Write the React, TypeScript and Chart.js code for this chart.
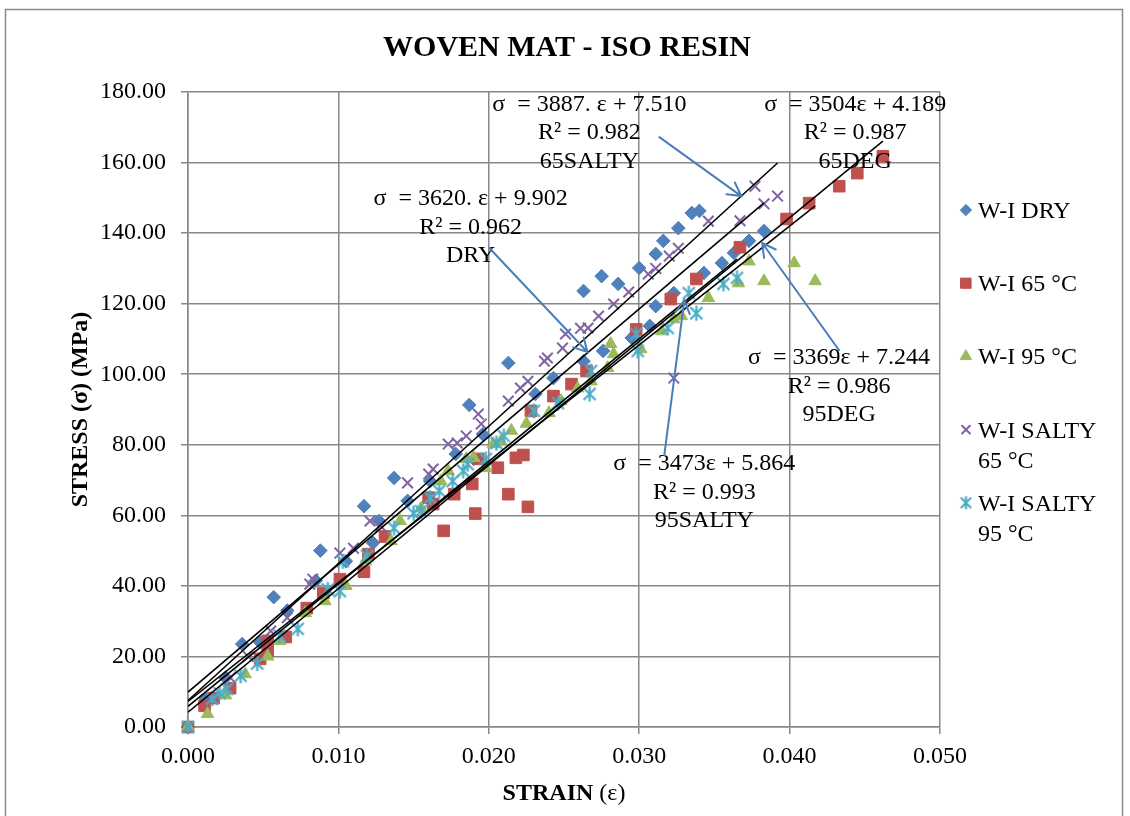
import React, { useEffect, useRef } from 'react';
import { Chart, registerables } from 'chart.js';
import { drawPoint } from 'chart.js/helpers';

Chart.register(...registerables);

// ---------- DATA ----------
const chartTitle = 'WOVEN MAT - ISO RESIN';
const yAxisTitle = 'STRESS (σ) (MPa)';
const xAxisTitleBold = 'STRAIN ';
const xAxisTitleRegular = '(ε)';

const seriesLabels = [
  ['W-I DRY'],
  ['W-I 65 °C'],
  ['W-I 95 °C'],
  ['W-I SALTY', '65 °C'],
  ['W-I SALTY', '95 °C'],
];

// [strain, stress (MPa)]
const dryPoints = [
  [0, 0], [0.0012, 8], [0.0025, 14], [0.0036, 23.5], [0.0048, 24], [0.0057, 36.8], [0.0066, 33],
  [0.0085, 41.5], [0.0088, 50], [0.0105, 47], [0.0117, 62.6], [0.0123, 52.2], [0.0127, 58.4],
  [0.0137, 70.6], [0.0146, 64.1], [0.0161, 69.7], [0.0178, 77.4], [0.0187, 91.3], [0.019, 76],
  [0.0196, 83], [0.0213, 103.2], [0.0231, 94.4], [0.0243, 98.9], [0.0263, 123.6], [0.0263, 103.7],
  [0.0275, 127.8], [0.0276, 106.6], [0.0286, 125.6], [0.0295, 110.3], [0.03, 130.1], [0.0307, 113.7],
  [0.0311, 134.1], [0.0311, 119.3], [0.0316, 137.8], [0.0323, 123], [0.0326, 141.4], [0.0335, 145.7],
  [0.034, 146.3], [0.0343, 128.7], [0.0355, 131.5], [0.0363, 134.4], [0.0373, 137.8], [0.0383, 140.6],
];

const t65Points = [
  [0, 0], [0.0011, 6], [0.0017, 8.2], [0.0028, 11], [0.0048, 19.3], [0.0053, 21.5], [0.0053, 24.4],
  [0.0065, 25.5], [0.0079, 33.7], [0.009, 38], [0.0101, 41.9], [0.0117, 44], [0.012, 49], [0.0131, 54],
  [0.016, 65], [0.0163, 63.2], [0.017, 55.6], [0.0177, 66], [0.0189, 68.9], [0.0191, 60.5], [0.0193, 76],
  [0.0206, 73.5], [0.0213, 66], [0.0218, 76.3], [0.0223, 77.1], [0.0226, 62.4], [0.0228, 89.6],
  [0.0243, 93.8], [0.0255, 97.2], [0.0265, 100.9], [0.0298, 112.7], [0.0321, 121.3], [0.0338, 127],
  [0.0367, 136], [0.0398, 144], [0.0413, 148.5], [0.0433, 153.3], [0.0445, 157], [0.0462, 161.8],
];

const t95Points = [
  [0, 0], [0.0013, 3.7], [0.0025, 9], [0.0038, 15], [0.0053, 20], [0.0061, 24.4], [0.0078, 32.3],
  [0.0091, 35.7], [0.0105, 40], [0.0118, 47], [0.0135, 52.7], [0.0141, 58.4], [0.0155, 62],
  [0.0168, 69.7], [0.0173, 72.6], [0.0185, 76], [0.019, 76.3], [0.0198, 73.4], [0.0203, 80.2],
  [0.0208, 81], [0.0215, 84], [0.0225, 86], [0.024, 89], [0.0248, 92.4], [0.0259, 96], [0.0268, 98],
  [0.0279, 101.8], [0.0281, 108.6], [0.0283, 105.7], [0.0301, 107.1], [0.0315, 112.2], [0.0323, 115.6],
  [0.0328, 116.5], [0.0346, 121.6], [0.0366, 125.8], [0.0373, 132], [0.0383, 126.4], [0.0403, 131.5],
  [0.0417, 126.4],
];

const salty65Points = [
  [0, 0], [0.0015, 8.2], [0.0028, 14], [0.004, 20], [0.0055, 27.2], [0.0066, 31], [0.0081, 40.5],
  [0.0083, 41.9], [0.0101, 49.3], [0.011, 50.7], [0.0121, 58.4], [0.0128, 57], [0.0146, 69.2],
  [0.016, 71.7], [0.0163, 73.1], [0.0173, 80.2], [0.0179, 80.5], [0.0185, 82.5], [0.0193, 88.7],
  [0.0195, 85.9], [0.0213, 92.4], [0.0221, 96.1], [0.0226, 98], [0.0237, 103.7], [0.0239, 104.6],
  [0.0249, 107.4], [0.0251, 111.4], [0.0261, 113], [0.0266, 113.1], [0.0273, 116.5], [0.0283, 119.9],
  [0.0293, 123.3], [0.0306, 128.4], [0.0311, 130], [0.032, 133.5], [0.0323, 98.9], [0.0326, 135.7],
  [0.0346, 143.4], [0.0367, 143.5], [0.0377, 153.3], [0.0383, 148.3], [0.0392, 150.5],
];

const salty95Points = [
  [0, 0], [0.0016, 8], [0.0021, 9.6], [0.0026, 10.8], [0.0035, 14.5], [0.0046, 18], [0.0061, 25.8],
  [0.0073, 27.8], [0.0093, 39], [0.0101, 38.5], [0.0103, 47], [0.0119, 48.5], [0.0137, 56.4],
  [0.015, 60.6], [0.0155, 61.2], [0.0161, 65], [0.0167, 66.9], [0.0176, 69.7], [0.0183, 72.6],
  [0.0186, 74.5], [0.0198, 76], [0.0205, 80.5], [0.021, 82.5], [0.023, 89.6], [0.0246, 91.8],
  [0.0267, 94.4], [0.0268, 100.9], [0.0298, 111.4], [0.0299, 106.6], [0.0319, 113.1], [0.0333, 123],
  [0.0338, 117.3], [0.0356, 125.6], [0.0365, 127.3],
];

// linear trendlines shown on the chart: σ = slope·ε + intercept (same order as series)
const trendSlopes = [3620, 3504, 3369, 3887, 3473];
const trendIntercepts = [9.902, 4.189, 7.244, 7.51, 5.864];

const annotationTexts = [
  ['σ  = 3887. ε + 7.510', 'R² = 0.982', '65SALTY'],
  ['σ  = 3504ε + 4.189', 'R² = 0.987', '65DEG'],
  ['σ  = 3620. ε + 9.902', 'R² = 0.962', 'DRY'],
  ['σ  = 3369ε + 7.244', 'R² = 0.986', '95DEG'],
  ['σ  = 3473ε + 5.864', 'R² = 0.993', '95SALTY'],
];
// centre of first text line, in data units
const annotationAnchors = [
  [0.02669, 176.9], [0.04436, 176.9], [0.01879, 150.2], [0.04329, 105.1], [0.03433, 75.1],
];
// arrows: [fromStrain, fromStress, toStrain, toStress]
const arrowPaths = [
  [0.03134, 167.2, 0.03679, 150.5],
  [0.02005, 135.7, 0.02656, 106.3],
  [0.04329, 106.8, 0.03818, 137.2],
  [0.03167, 77.1, 0.033, 121.0],
];

const yTicksMax = 180;
const yTickStep = 20;
const xTicksMax = 0.05;
const xTickStep = 0.01;

// ---------- STYLE ----------
const FONT = '"Liberation Serif", "Times New Roman", serif';
const colors = ['#4F81BD', '#C0504D', '#9BBB59', '#8064A2', '#4BACC6'];
const gridColor = '#888888';
const arrowColor = '#4A7EBB';

function makeAsterisk(color: string, size: number) {
  const c = document.createElement('canvas');
  c.width = size;
  c.height = size;
  const g = c.getContext('2d')!;
  g.strokeStyle = color;
  g.lineWidth = 2.2;
  const m = size / 2;
  const r = size / 2 - 1;
  const d = r * 0.8;
  g.beginPath();
  g.moveTo(m, m - r);
  g.lineTo(m, m + r);
  g.moveTo(m - d, m - d);
  g.lineTo(m + d, m + d);
  g.moveTo(m + d, m - d);
  g.lineTo(m - d, m + d);
  g.stroke();
  return c;
}

export default function App() {
  const ref = useRef<HTMLCanvasElement>(null);

  useEffect(() => {
    const canvas = ref.current!;
    const asterisk = makeAsterisk(colors[4], 17);
    const asteriskSmall = makeAsterisk(colors[4], 15);
    const seriesData = [dryPoints, t65Points, t95Points, salty65Points, salty95Points];
    const pointStyles: any[] = ['rectRot', 'rect', 'triangle', 'crossRot', asterisk];
    const legendStyles: any[] = ['rectRot', 'rect', 'triangle', 'crossRot', asteriskSmall];
    const pointRadii = [6.8, 8.2, 7.2, 7.5, 8];
    const legendRadii = [5.6, 7.2, 6.4, 5.5, 7];
    const pointBorders = [1, 1, 1, 2, 1];

    const scatterSets = seriesData.map((pts, i) => ({
      label: seriesLabels[i].join(' '),
      data: pts.map(([x, y]) => ({ x, y })),
      pointStyle: pointStyles[i],
      pointRadius: pointRadii[i],
      pointBorderWidth: pointBorders[i],
      backgroundColor: colors[i],
      borderColor: colors[i],
      showLine: false,
      clip: false as any,
      order: 5 - i,
    }));

    const trendSets = seriesData.map((pts, i) => {
      const xmax = Math.max(...pts.map((p) => p[0]));
      return {
        label: 'trend ' + i,
        data: [
          { x: 0, y: trendIntercepts[i] },
          { x: xmax, y: trendSlopes[i] * xmax + trendIntercepts[i] },
        ],
        showLine: true,
        borderColor: '#000000',
        borderWidth: 1.6,
        pointRadius: 0,
        order: 0,
      };
    });

    const overlay = {
      id: 'overlay',
      beforeDraw(chart: any) {
        const ctx = chart.ctx;
        ctx.save();
        ctx.fillStyle = '#ffffff';
        ctx.fillRect(0, 0, chart.width, chart.height);
        ctx.strokeStyle = '#8a8a8a';
        ctx.lineWidth = 1.5;
        ctx.strokeRect(5.5, 9.5, 1117, 830);
        ctx.restore();
      },
      afterDraw(chart: any) {
        const ctx = chart.ctx;
        const xs = chart.scales.x;
        const ys = chart.scales.y;
        const area = chart.chartArea;
        ctx.save();
        ctx.fillStyle = '#000';
        ctx.textBaseline = 'alphabetic';

        // title
        ctx.font = `bold 30px ${FONT}`;
        ctx.textAlign = 'center';
        ctx.fillText(chartTitle, 567, 56);

        // x axis title (mixed weight)
        const cx = (area.left + area.right) / 2;
        ctx.font = `bold 24px ${FONT}`;
        const w1 = ctx.measureText(xAxisTitleBold).width;
        ctx.font = `24px ${FONT}`;
        const w2 = ctx.measureText(xAxisTitleRegular).width;
        const sx = cx - (w1 + w2) / 2;
        ctx.textAlign = 'left';
        ctx.font = `bold 24px ${FONT}`;
        ctx.fillText(xAxisTitleBold, sx, 800);
        ctx.font = `24px ${FONT}`;
        ctx.fillText(xAxisTitleRegular, sx + w1, 800);

        // annotations
        ctx.textAlign = 'center';
        ctx.font = `24px ${FONT}`;
        annotationTexts.forEach((lines, i) => {
          const px = xs.getPixelForValue(annotationAnchors[i][0]);
          const py = ys.getPixelForValue(annotationAnchors[i][1]);
          lines.forEach((t, j) => ctx.fillText(t, px, py + 8 + j * 28.5));
        });

        // arrows
        ctx.strokeStyle = arrowColor;
        ctx.lineWidth = 2;
        ctx.lineCap = 'round';
        arrowPaths.forEach(([x0, y0, x1, y1]) => {
          const ax = xs.getPixelForValue(x0);
          const ay = ys.getPixelForValue(y0);
          const bx = xs.getPixelForValue(x1);
          const by = ys.getPixelForValue(y1);
          const ang = Math.atan2(by - ay, bx - ax);
          const L = 15;
          const spread = 0.5;
          ctx.beginPath();
          ctx.moveTo(ax, ay);
          ctx.lineTo(bx, by);
          ctx.moveTo(bx - L * Math.cos(ang - spread), by - L * Math.sin(ang - spread));
          ctx.lineTo(bx, by);
          ctx.lineTo(bx - L * Math.cos(ang + spread), by - L * Math.sin(ang + spread));
          ctx.stroke();
        });

        // legend
        ctx.textAlign = 'left';
        ctx.font = `24px ${FONT}`;
        seriesLabels.forEach((lines, i) => {
          const ly = 210 + i * 73.2;
          ctx.fillStyle = colors[i];
          ctx.strokeStyle = colors[i];
          ctx.lineWidth = pointBorders[i];
          drawPoint(ctx, {
            pointStyle: legendStyles[i],
            radius: legendRadii[i],
            rotation: 0,
            borderWidth: pointBorders[i],
          } as any, 966, ly);
          ctx.fillStyle = '#000';
          lines.forEach((t, j) => ctx.fillText(t, 978, ly + 8 + j * 30));
        });
        ctx.restore();
      },
    };

    const chart = new Chart(canvas, {
      type: 'scatter',
      data: { datasets: [...scatterSets, ...trendSets] as any },
      options: {
        animation: false,
        responsive: false,
        maintainAspectRatio: false,
        events: [],
        layout: { padding: { top: 92, left: 0, right: 190, bottom: 0 } },
        plugins: {
          legend: { display: false },
          title: { display: false },
          tooltip: { enabled: false },
        },
        scales: {
          x: {
            type: 'linear',
            min: 0,
            max: xTicksMax,
            afterFit: (s: any) => { s.height = 89; },
            ticks: {
              stepSize: xTickStep,
              padding: 8,
              color: '#000',
              font: { family: FONT, size: 24 },
              callback: (v: any) => Number(v).toFixed(3),
            },
            grid: { color: gridColor, lineWidth: 1.5, tickLength: 7, drawTicks: true },
            border: { color: gridColor, width: 1.5 },
          },
          y: {
            type: 'linear',
            min: 0,
            max: yTicksMax,
            afterFit: (s: any) => { s.width = 188; },
            ticks: {
              stepSize: yTickStep,
              padding: 15,
              color: '#000',
              font: { family: FONT, size: 24 },
              callback: (v: any) => Number(v).toFixed(2),
            },
            grid: { color: gridColor, lineWidth: 1.5, tickLength: 7, drawTicks: true },
            border: { color: gridColor, width: 1.5 },
            title: {
              display: true,
              text: yAxisTitle,
              color: '#000',
              font: { family: FONT, size: 24, weight: 'bold' },
              padding: { top: 66, bottom: 0 },
            },
          },
        },
      },
      plugins: [overlay],
    });

    return () => chart.destroy();
  }, []);

  return (
    <div style={{ position: 'absolute', left: 0, top: 0, width: 1130, height: 816, background: '#fff', overflow: 'hidden' }}>
      <canvas ref={ref} width={1130} height={816} style={{ display: 'block' }} />
    </div>
  );
}
